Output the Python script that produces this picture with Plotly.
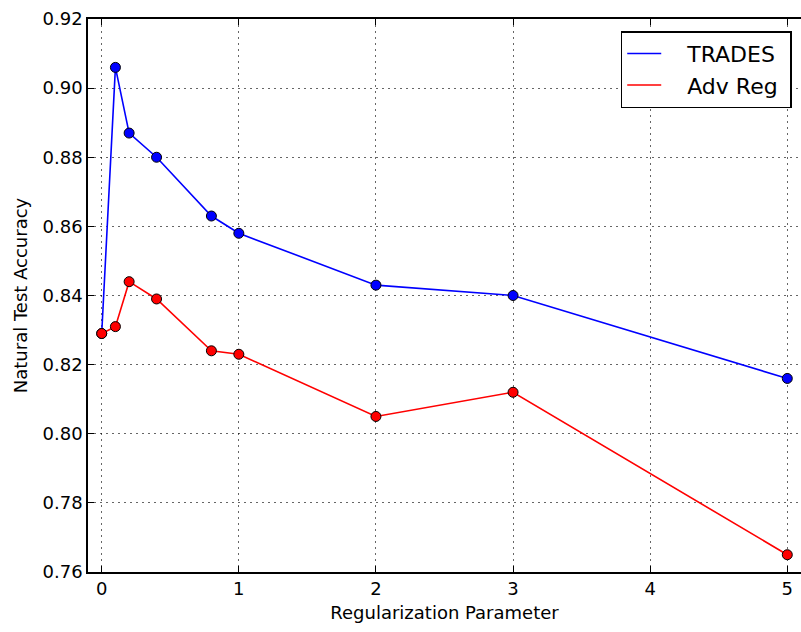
import plotly.graph_objects as go

reg_params = [0, 0.1, 0.2, 0.4, 0.8, 1, 2, 3, 5]
trades_acc = [0.829, 0.906, 0.887, 0.880, 0.863, 0.858, 0.843, 0.840, 0.816]
advreg_acc = [0.829, 0.831, 0.844, 0.839, 0.824, 0.823, 0.805, 0.812, 0.765]
x_ticks = [0, 1, 2, 3, 4, 5]
y_ticks = [0.76, 0.78, 0.80, 0.82, 0.84, 0.86, 0.88, 0.90, 0.92]

FONT = "DejaVu Sans"
BLUE = "#0000ff"
RED = "#ff0000"
XR = [-0.1, 5.1]
YR = [0.76, 0.92]
PAD = "\u00a0\u00a0\u00a0"

fig = go.Figure()
for name, ys, col in [("TRADES", trades_acc, BLUE), ("Adv Reg", advreg_acc, RED)]:
    fig.add_trace(go.Scatter(x=reg_params, y=ys, mode="lines", name=PAD + name + "\u00a0",
                             line=dict(color=col, width=1.6)))
for name, ys, col in [("TRADES", trades_acc, BLUE), ("Adv Reg", advreg_acc, RED)]:
    fig.add_trace(go.Scatter(x=reg_params, y=ys, mode="markers", name=name,
                             showlegend=False,
                             marker=dict(color=col, size=10,
                                         line=dict(color="black", width=1))))

grid = dict(showgrid=True, gridcolor="rgba(0,0,0,0.6)", gridwidth=1,
            griddash="1.5px,4.5px")

fig.update_layout(
    width=801, height=632,
    margin=dict(l=88, r=0, t=19, b=60, autoexpand=False),
    paper_bgcolor="white", plot_bgcolor="white",
    font=dict(family=FONT, size=18, color="black"),
    showlegend=True,
    legend=dict(x=0.987, xanchor="right", y=0.978, yanchor="top",
                bordercolor="black", borderwidth=1.5, bgcolor="white",
                font=dict(family=FONT, size=22, color="black"),
                itemwidth=34, tracegroupgap=4),
    xaxis=dict(range=XR, tickmode="array", tickvals=x_ticks,
               ticktext=[str(v) for v in x_ticks],
               ticks="inside", ticklen=6, tickcolor="black", tickwidth=1,
               showline=True, linecolor="black", linewidth=1.5, mirror="ticks",
               zeroline=False,
               title=dict(text="Regularization Parameter", standoff=8,
                          font=dict(family=FONT, size=18)),
               tickfont=dict(family=FONT, size=18), **grid),
    yaxis=dict(range=YR, tickmode="array", tickvals=y_ticks,
               ticktext=[f"{v:.2f}" for v in y_ticks],
               ticks="inside", ticklen=6, tickcolor="black", tickwidth=1,
               showline=True, linecolor="black", linewidth=1.5,
               zeroline=False,
               title=dict(text="Natural Test Accuracy", standoff=10,
                          font=dict(family=FONT, size=18)),
               tickfont=dict(family=FONT, size=18), **grid),
    yaxis2=dict(range=YR, overlaying="y", side="right", tickmode="array",
                tickvals=y_ticks, showticklabels=False, ticks="inside",
                ticklen=6, tickcolor="black", showgrid=False, zeroline=False,
                showline=False),
)

fig.write_html("out.html", config={"displayModeBar": False},
               post_script="document.body.style.margin='0';document.body.style.overflow='hidden';")
